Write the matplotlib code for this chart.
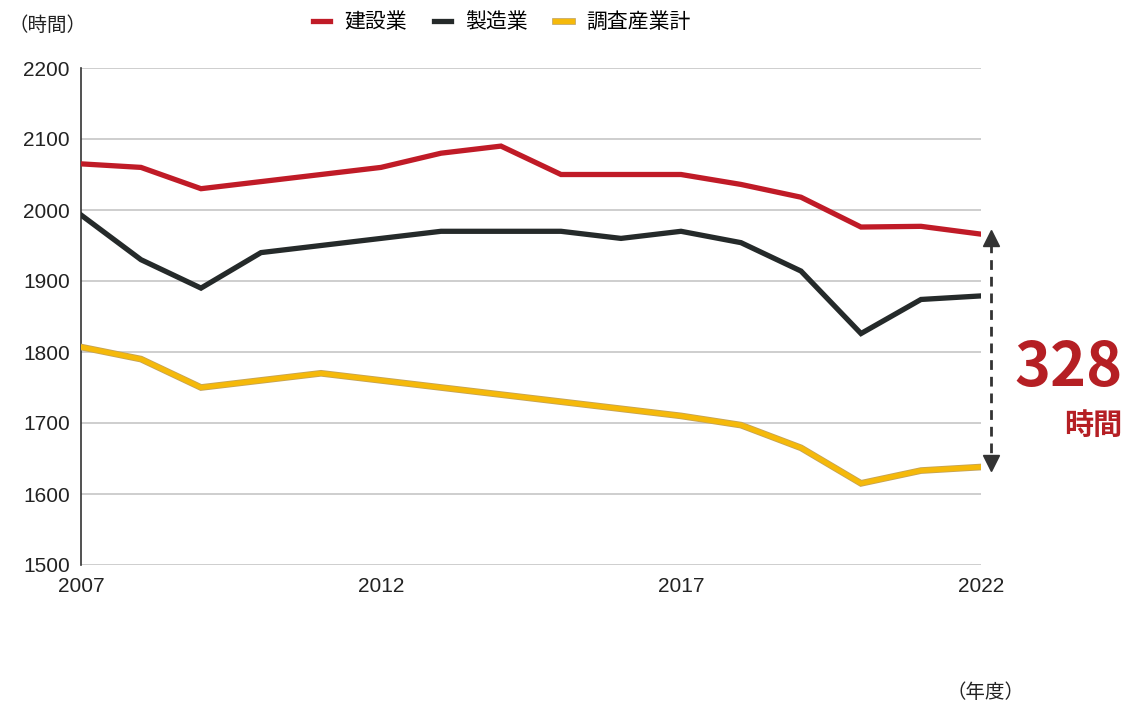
"""
労働時間の推移 - 建設業 / 製造業 / 調査産業計
"""
import matplotlib.pyplot as plt
import matplotlib.patheffects as pe
import numpy as np

plt.rcParams['font.family'] = ['Liberation Sans', 'Noto Sans CJK JP']

years = np.arange(2007, 2023)
construction = [2065, 2060, 2030, 2040, 2050, 2060, 2080, 2090,
                2050, 2050, 2050, 2036, 2018, 1976, 1977, 1966]
manufacturing = [1993, 1930, 1890, 1940, 1950, 1960, 1970, 1970,
                 1970, 1960, 1970, 1954, 1914, 1826, 1874, 1879]
all_industries = [1807, 1790, 1750, 1760, 1770, 1760, 1750, 1740,
                  1730, 1720, 1710, 1697, 1665, 1615, 1633, 1638]
labels = ['建設業', '製造業', '調査産業計']
xticks = [2007, 2012, 2017, 2022]

RED = '#c01b27'
DARK = '#252a2a'
YELLOW = '#f5b90a'
JP = ['Noto Sans CJK JP', 'DejaVu Sans']

fig = plt.figure(figsize=(11.27, 7.03), dpi=100)
ax = fig.add_axes([81 / 1127, 1 - 565 / 703, 900 / 1127, 497 / 703])

ax.plot(years, construction, color=RED, lw=3.8, solid_joinstyle='miter',
        label=labels[0], zorder=4)
ax.plot(years, manufacturing, color=DARK, lw=3.8, solid_joinstyle='miter',
        label=labels[1], zorder=4)
ax.plot(years, all_industries, color=YELLOW, lw=3.6, solid_joinstyle='miter',
        label=labels[2], zorder=4,
        path_effects=[pe.Stroke(linewidth=4.8, foreground='#c4a357'), pe.Normal()])

ax.set_xlim(2007, 2022)
ax.set_ylim(1500, 2200)
ax.set_yticks(np.arange(1500, 2201, 100))
ax.set_xticks(xticks)
ax.grid(axis='y', color='#c6c6c6', lw=1.2)
ax.set_axisbelow(True)
for s in ['top', 'right', 'bottom']:
    ax.spines[s].set_visible(False)
ax.spines['left'].set_color('#333333')
ax.spines['left'].set_linewidth(1.2)
ax.tick_params(axis='both', length=0, labelsize=15, colors='#222222')
ax.tick_params(axis='y', pad=8)
ax.tick_params(axis='x', pad=9)

# 差の矢印
ax_x = 2022.17
y_top, y_bot = construction[-1], all_industries[-1]
ax.plot([ax_x, ax_x], [y_top - 12, y_bot + 12], color='#333333', lw=2,
        ls=(0, (3.5, 2.5)), clip_on=False)
ax.plot([ax_x], [y_top - 6], marker='^', ms=11, color='#333333', clip_on=False)
ax.plot([ax_x], [y_bot + 6], marker='v', ms=11, color='#333333', clip_on=False)

fig.text(1123 / 1127, 1 - 368 / 703, str(y_top - y_bot), color='#b51f24',
         fontsize=44, fontweight='bold', family=JP,
         ha='right', va='center')
fig.text(1122 / 1127, 1 - 425 / 703, '時間', color='#b51f24', fontsize=21,
         fontweight='bold', family=JP, ha='right', va='center')

fig.text(8 / 1127, 1 - 25 / 703, '（時間）', fontsize=14, family=JP,
         color='#222222', ha='left', va='center')
fig.text(1024 / 1127, 1 - 692 / 703, '（年度）', fontsize=14, family=JP,
         color='#222222', ha='right', va='center')

fig.legend(loc='center', bbox_to_anchor=(502 / 1127, 1 - 22 / 703), ncol=3,
           frameon=False, handlelength=0.8, handletextpad=0.7, columnspacing=1.3,
           prop={'family': JP, 'size': 15})

plt.savefig('out.png', dpi=100)
